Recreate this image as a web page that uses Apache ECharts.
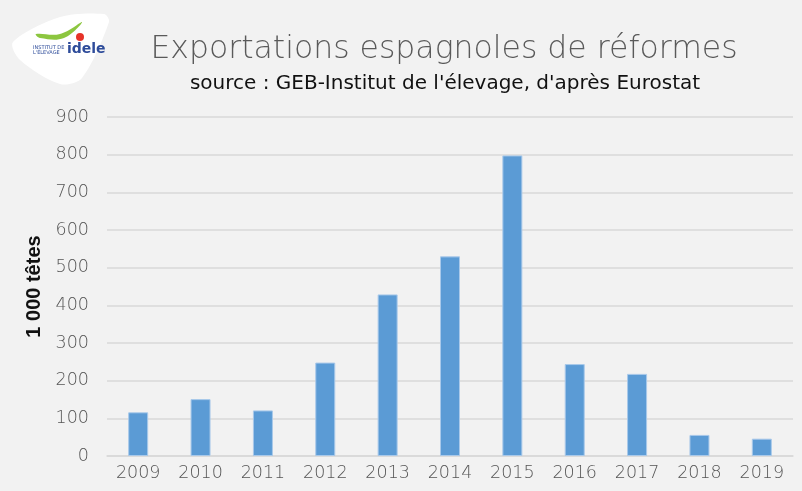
<!DOCTYPE html>
<html>
<head>
<meta charset="utf-8">
<script src="https://cdn.jsdelivr.net/npm/echarts@6/dist/echarts.min.js"></script>
<style>
  body { margin: 0; background: #fff; }
  #main { width: 802px; height: 491px; }
</style>
</head>
<body>
<div id="main"></div>
<script type="text/javascript">
    // données (1 000 têtes)
    var annees = ['2009', '2010', '2011', '2012', '2013', '2014', '2015', '2016', '2017', '2018', '2019'];
    var reformes = [116, 151, 121, 248, 429, 530, 798, 244, 218, 56, 46];

    var myChart = echarts.init(document.getElementById('main'));

    var option = {
        backgroundColor: '#f2f2f2',
        title: [{
            text: 'Exportations espagnoles de réformes',
            left: 439, top: 29, textAlign: 'center',
            textStyle: { fontFamily: 'DejaVu Sans', fontWeight: 200, fontSize: 31.5, color: '#5a5a5a' }
        }, {
            text: "source : GEB-Institut de l'élevage, d'après Eurostat",
            left: 440, top: 69, textAlign: 'center',
            textStyle: { fontFamily: 'DejaVu Sans', fontWeight: 'normal', fontSize: 20, color: '#111' }
        }],
        // logo idele (approximatif)
        graphic: [{
            type: 'polygon',
            shape: { points: [[13, 42], [60, 17], [104, 14], [109, 22], [82, 78], [60, 84], [20, 60]], smooth: 0.3 },
            style: { fill: '#fff' }
        }, {
            type: 'polygon',
            shape: { points: [[36, 34], [60, 34], [82, 22], [64, 38], [40, 38]], smooth: 0.4 },
            style: { fill: '#8cc63f' }
        }, {
            type: 'circle',
            shape: { cx: 80, cy: 37, r: 4 },
            style: { fill: '#e63329' }
        }, {
            type: 'text', left: 33, top: 45,
            style: { text: 'INSTITUT DE\nL\'ÉLEVAGE', fontSize: 5, fill: '#2e4c9a', fontFamily: 'DejaVu Sans' }
        }, {
            type: 'text', left: 67, top: 42,
            style: { text: 'idele', fontSize: 14, fontWeight: 'bold', fill: '#2e4c9a', fontFamily: 'DejaVu Sans' }
        }],
        grid: { left: 107, right: 9, top: 117, bottom: 35 },
        xAxis: {
            type: 'category',
            data: annees,
            axisTick: { show: false },
            axisLine: { lineStyle: { color: '#d9d9d9', width: 1.5 } },
            axisLabel: { color: '#555', fontSize: 17.5, fontWeight: 200, fontFamily: 'DejaVu Sans', margin: 8 }
        },
        yAxis: {
            type: 'value',
            min: 0, max: 900, interval: 100,
            name: '1 000 têtes',
            nameLocation: 'middle',
            nameGap: 62,
            nameTextStyle: { color: '#111', fontSize: 20, fontWeight: 'bold', fontFamily: 'Liberation Sans' },
            axisLabel: { color: '#555', fontSize: 17.5, fontWeight: 200, fontFamily: 'DejaVu Sans', margin: 18 },
            splitLine: { lineStyle: { color: '#d9d9d9', width: 1.5 } }
        },
        series: [{
            name: 'Exportations',
            type: 'bar',
            data: reformes,
            barWidth: 20,
            itemStyle: { color: '#5b9bd5', borderColor: '#a9c9ea', borderWidth: 1 }
        }]
    };

    myChart.setOption(option);
</script>
</body>
</html>
